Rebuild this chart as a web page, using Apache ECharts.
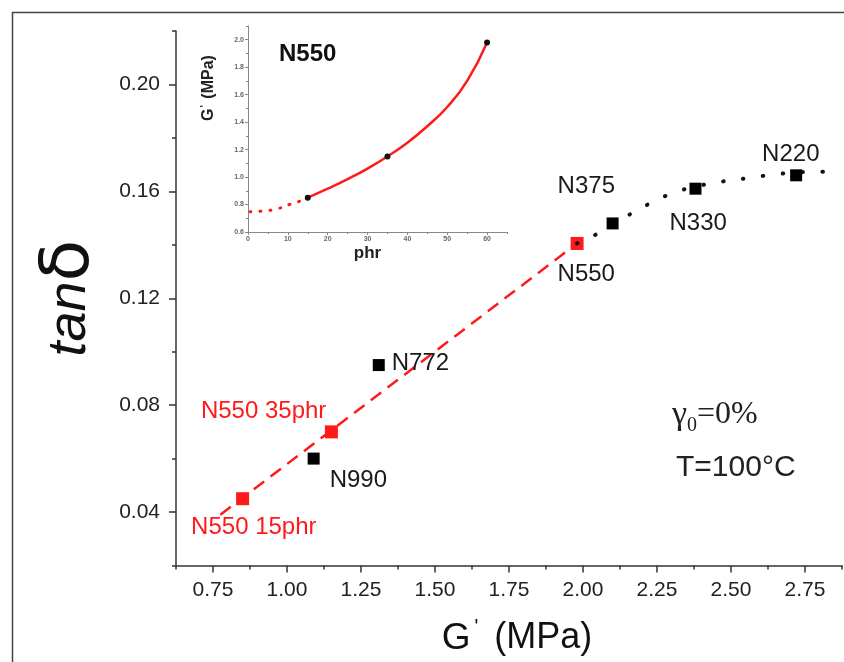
<!DOCTYPE html>
<html><head><meta charset="utf-8">
<script src="https://cdn.jsdelivr.net/npm/echarts@6/dist/echarts.min.js"></script>
<style>html,body{margin:0;padding:0;background:#fff}#c{width:844px;height:662px}</style>
</head><body><div id="c"></div>
<script>
// ---- main chart data ----
const blackNames = ['N990', 'N772', 'N375', 'N330', 'N220'];
const blackG = [1.09, 1.31, 2.10, 2.38, 2.72];
const blackTan = [0.060, 0.095, 0.148, 0.161, 0.166];
const redNames = ['N550 15phr', 'N550 35phr', 'N550'];
const redG = [0.85, 1.15, 1.98];
const redTan = [0.045, 0.070, 0.1405];
const dashG = [0.775, 1.98];
const dashTan = [0.039, 0.1405];
const dotG = [1.98, 2.051, 2.176, 2.240, 2.307, 2.382, 2.449, 2.520, 2.591, 2.665, 2.811, 2.875];
const dotTan = [0.1405, 0.1443, 0.1525, 0.1562, 0.1595, 0.1618, 0.1633, 0.1644, 0.1655, 0.1666, 0.1673, 0.1673];
const xMajor = [0.75, 1.00, 1.25, 1.50, 1.75, 2.00, 2.25, 2.50, 2.75];
const xMinor = [0.625, 0.875, 1.125, 1.375, 1.625, 1.875, 2.125, 2.375, 2.625, 2.875];
const yMajor = [0.04, 0.08, 0.12, 0.16, 0.20];
const yMinor = [0.02, 0.06, 0.10, 0.14, 0.18, 0.22];
// ---- inset data ----
const insetPhr = [15, 35, 60];
const insetG = [0.85, 1.15, 1.98];
const fitPhr = [15, 20, 25, 30, 35, 40, 45, 50, 55, 60];
const fitG = [0.85, 0.915, 0.985, 1.062, 1.15, 1.25, 1.37, 1.51, 1.70, 1.98];
const extPhr = [0.5, 3.85, 7.2, 10.6, 13.9, 15];
const extG = [0.748, 0.753, 0.768, 0.802, 0.834, 0.85];
const insetXMajor = [0, 10, 20, 30, 40, 50, 60];
const insetXMinor = [5, 15, 25, 35, 45, 55, 65];
const insetYMajor = [0.6, 0.8, 1.0, 1.2, 1.4, 1.6, 1.8, 2.0];
const insetYMinor = [0.7, 0.9, 1.1, 1.3, 1.5, 1.7, 1.9, 2.1];

// label placement (style, not data)
const labelPos = {
  'N990': [22, 28], 'N772': [19, 4], 'N375': [-49, -31], 'N330': [-20, 41], 'N220': [-28, -15],
  'N550 15phr': [-45, 35], 'N550 35phr': [-124, -14], 'N550': [-13, 37]
};
const zip = (a, b) => a.map((v, i) => [v, b[i]]);
const RED = '#ff1a1a';
const SANS = 'Liberation Sans, Arial, sans-serif';

const chart = echarts.init(document.getElementById('c'), null, {renderer: 'canvas'});

function mkAxis(extra) { return Object.assign({type: 'value', splitLine: {show: false}}, extra); }
const mainLine = {show: true, onZero: false, lineStyle: {color: '#333', width: 1.5}};
const insetLine = {show: true, onZero: false, lineStyle: {color: '#888', width: 1}};

const option = {
  animation: false,
  backgroundColor: '#fff',
  grid: [
    {left: 176, top: 31, width: 666, height: 538},
    {left: 248, top: 26, width: 259, height: 206}
  ],
  xAxis: [
    mkAxis({gridIndex: 0, min: 0.625, max: 2.875, position: 'bottom',
      axisLine: mainLine,
      axisTick: {customValues: xMajor, length: 7, lineStyle: {color: '#333', width: 1.5}},
      axisLabel: {customValues: xMajor, formatter: v => v.toFixed(2), fontSize: 21, fontFamily: SANS, color: '#222', margin: 14},
      name: '{g|G}{p|\'}{m| (MPa)}', nameLocation: 'middle', nameGap: 52,
      nameTextStyle: {padding: [0, 0, 0, 16], rich: {
        g: {fontSize: 37, fontFamily: SANS, color: '#111'},
        p: {fontSize: 20, fontFamily: SANS, color: '#111', padding: [0, 6, 22, 4]},
        m: {fontSize: 36, fontFamily: SANS, color: '#111'}
      }}
    }),
    mkAxis({gridIndex: 0, min: 0.625, max: 2.875, position: 'bottom',
      axisLine: {show: false}, axisLabel: {show: false},
      axisTick: {customValues: xMinor, length: 4, lineStyle: {color: '#333', width: 1.5}}
    }),
    mkAxis({gridIndex: 1, min: 0, max: 65, position: 'bottom',
      axisLine: insetLine,
      axisTick: {customValues: insetXMajor, length: 3, lineStyle: {color: '#888'}},
      axisLabel: {customValues: insetXMajor, fontSize: 7, fontWeight: 'bold', color: '#666', margin: 4, fontFamily: SANS},
      name: 'phr', nameLocation: 'middle', nameGap: 13,
      nameTextStyle: {fontSize: 17, fontWeight: 'bold', color: '#222', fontFamily: SANS, padding: [0, 20, 0, 0]}
    }),
    mkAxis({gridIndex: 1, min: 0, max: 65, position: 'bottom',
      axisLine: {show: false}, axisLabel: {show: false},
      axisTick: {customValues: insetXMinor, length: 2, lineStyle: {color: '#888'}}
    })
  ],
  yAxis: [
    mkAxis({gridIndex: 0, min: 0.02, max: 0.22, position: 'left',
      axisLine: mainLine,
      axisTick: {customValues: yMajor, length: 7, lineStyle: {color: '#333', width: 1.5}},
      axisLabel: {customValues: yMajor, formatter: v => v.toFixed(2), fontSize: 21, fontFamily: SANS, color: '#222', margin: 16},
      name: '{t|tan}{d|δ}', nameLocation: 'middle', nameRotate: 90, nameGap: 72,
      nameTextStyle: {rich: {
        t: {fontSize: 54, fontStyle: 'italic', fontFamily: SANS, color: '#111'},
        d: {fontSize: 68, fontFamily: 'DejaVu Sans, sans-serif', color: '#111'}
      }}
    }),
    mkAxis({gridIndex: 0, min: 0.02, max: 0.22, position: 'left',
      axisLine: {show: false}, axisLabel: {show: false},
      axisTick: {customValues: yMinor, length: 4, lineStyle: {color: '#333', width: 1.5}}
    }),
    mkAxis({gridIndex: 1, min: 0.6, max: 2.1, position: 'left',
      axisLine: insetLine,
      axisTick: {customValues: insetYMajor, length: 3, lineStyle: {color: '#888'}},
      axisLabel: {customValues: insetYMajor, formatter: v => v.toFixed(1), fontSize: 7, fontWeight: 'bold', color: '#666', margin: 4, fontFamily: SANS},
      name: '{g|G}{p|\'}{m| (MPa)}', nameLocation: 'middle', nameRotate: 90, nameGap: 30,
      nameTextStyle: {padding: [0, 0, 0, 82], rich: {
        g: {fontSize: 16, fontWeight: 'bold', fontFamily: SANS, color: '#222'},
        p: {fontSize: 10, fontWeight: 'bold', fontFamily: SANS, color: '#222', padding: [0, 2, 8, 1]},
        m: {fontSize: 16, fontWeight: 'bold', fontFamily: SANS, color: '#222'}
      }}
    }),
    mkAxis({gridIndex: 1, min: 0.6, max: 2.1, position: 'left',
      axisLine: {show: false}, axisLabel: {show: false},
      axisTick: {customValues: insetYMinor, length: 2, lineStyle: {color: '#888'}}
    })
  ],
  series: [
    {type: 'line', xAxisIndex: 0, yAxisIndex: 0, data: zip(dashG, dashTan), symbol: 'none', z: 2,
      lineStyle: {color: RED, width: 2.5, type: [13, 8]}},
    {type: 'line', xAxisIndex: 0, yAxisIndex: 0, data: zip(dotG, dotTan), symbol: 'none', smooth: true, z: 4,
      lineStyle: {color: '#111', width: 4, type: [0.5, 19.5], cap: 'round'}},
    {type: 'scatter', xAxisIndex: 0, yAxisIndex: 0, symbol: 'rect', symbolSize: 13, z: 3,
      itemStyle: {color: RED, opacity: 1},
      data: redNames.map((n, i) => ({name: n, value: [redG[i], redTan[i]],
        label: {position: labelPos[n], color: n === 'N550' ? '#1a1a1a' : RED}})),
      label: {show: true, formatter: '{b}', fontSize: 24, fontFamily: SANS, align: 'left', verticalAlign: 'middle', opacity: 1}},
    {type: 'scatter', xAxisIndex: 0, yAxisIndex: 0, symbol: 'rect', symbolSize: 12, z: 5,
      itemStyle: {color: '#000', opacity: 1},
      data: blackNames.map((n, i) => ({name: n, value: [blackG[i], blackTan[i]],
        label: {position: labelPos[n]}})),
      label: {show: true, formatter: '{b}', fontSize: 24, fontFamily: SANS, color: '#1a1a1a', align: 'left', verticalAlign: 'middle', opacity: 1}},
    {type: 'line', xAxisIndex: 2, yAxisIndex: 2, data: zip(extPhr, extG), symbol: 'none', smooth: true,
      lineStyle: {color: RED, width: 3, type: [1, 9], cap: 'round'}},
    {type: 'line', xAxisIndex: 2, yAxisIndex: 2, data: zip(fitPhr, fitG), symbol: 'none', smooth: 0.5,
      lineStyle: {color: RED, width: 2.5}},
    {type: 'scatter', xAxisIndex: 2, yAxisIndex: 2, data: zip(insetPhr, insetG), symbol: 'circle', symbolSize: 6,
      itemStyle: {color: '#111', opacity: 1}, z: 5}
  ],
  graphic: [
    {type: 'rect', left: 10, top: 10, shape: {width: 900, height: 900}, silent: true,
      style: {fill: 'none', stroke: '#444', lineWidth: 1.5}},
    {type: 'text', left: 279, top: 42, silent: true,
      style: {text: 'N550', fontSize: 24, fontWeight: 'bold', fontFamily: SANS, fill: '#111'}},
    {type: 'text', left: 672, top: 398, silent: true,
      style: {text: '{g|γ}{s|0}{e|=0%}', rich: {
        g: {fontSize: 34, fontFamily: 'Liberation Serif, serif', fill: '#222'},
        s: {fontSize: 20, fontFamily: 'Liberation Serif, serif', fill: '#222', padding: [22, 0, 0, 0]},
        e: {fontSize: 32, fontFamily: 'Liberation Serif, serif', fill: '#222'}
      }}},
    {type: 'text', left: 676, top: 453, silent: true,
      style: {text: 'T=100°C', fontSize: 30, fontFamily: SANS, fill: '#222'}}
  ]
};
chart.setOption(option);
</script>
</body></html>
